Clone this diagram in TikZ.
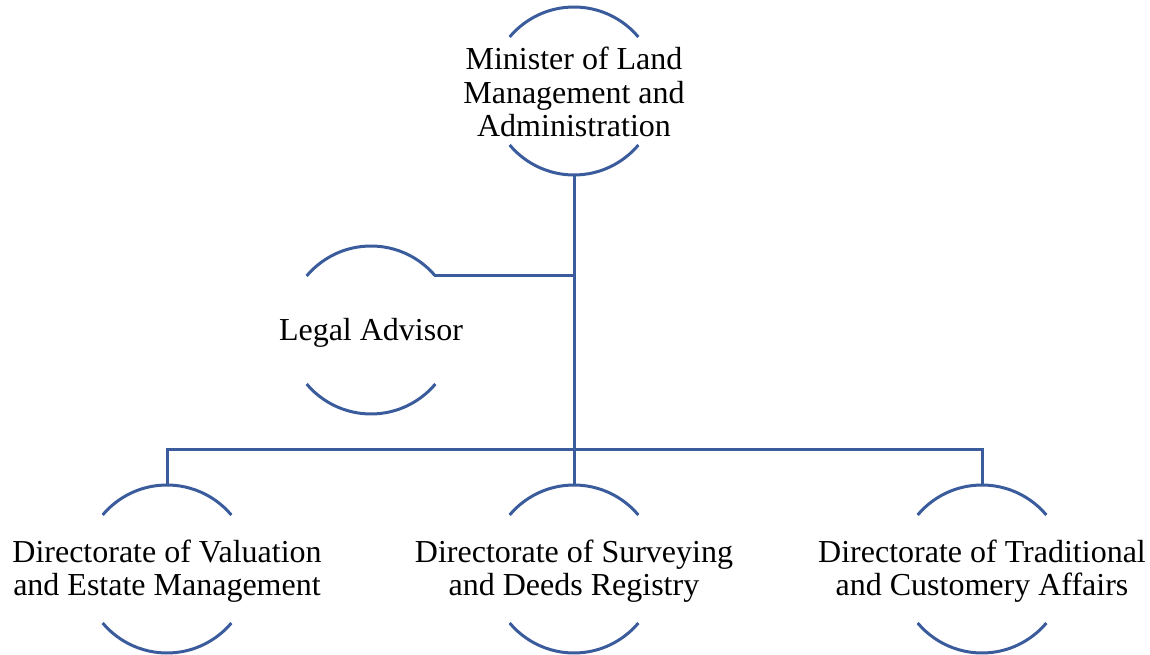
\documentclass[tikz,border=0pt]{standalone}
\usepackage{fontspec}
\setmainfont{Liberation Serif}
\definecolor{linecol}{RGB}{59,92,156}
\begin{document}
\begin{tikzpicture}[x=1pt,y=1pt,
  ring/.style={circle,minimum size=168pt,inner sep=0pt,outer sep=0pt},
  lbl/.style={align=center,inner sep=0pt,font=\fontsize{32}{33.5}\selectfont},
  ln/.style={draw=linecol,line width=3pt}]
\useasboundingbox (0,0) rectangle (1150,655);
% nodes
\node[ring] (m) at (574,564) {};
\node[ring] (l) at (371,325) {};
\node[ring] (v) at (167,86) {};
\node[ring] (s) at (574,86) {};
\node[ring] (t) at (982,86) {};
\node[lbl] (mt) at ([yshift=-1pt]m) {Minister of Land\\Management and\\Administration};
\node[lbl] (lt) at ([yshift=-3pt]l) {Legal Advisor};
\node[lbl] (vt) at ([yshift=-2pt]v) {Directorate of Valuation\\and Estate Management};
\node[lbl] (st) at ([yshift=-2pt]s) {Directorate of Surveying\\and Deeds Registry};
\node[lbl] (tt) at ([yshift=-2pt]t) {Directorate of Traditional\\and Customery Affairs};
% arcs
\foreach \n in {m,l,v,s,t}{
  \draw[ln] (\n.40) arc[start angle=40,end angle=140,radius=84pt];
  \draw[ln] (\n.220) arc[start angle=220,end angle=320,radius=84pt];
}
% connectors
\draw[ln] (m.south) -- (s.north);
\draw[ln] (l.40) -- (l.40 -| m.south);
\draw[ln] (v.north) -- ++(0,35) -| (t.north);
\end{tikzpicture}
\end{document}
